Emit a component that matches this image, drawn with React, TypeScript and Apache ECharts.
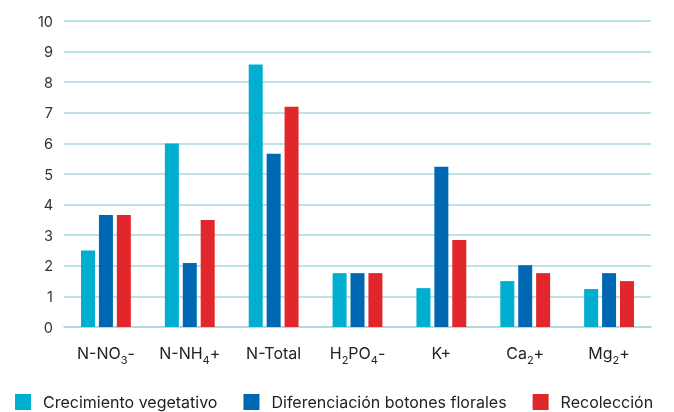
import React, { useEffect, useRef } from "react";
import * as echarts from "echarts";

const categories = ["N-NO{s|3}-", "N-NH{s|4}+", "N-Total", "H{s|2}PO{s|4}-", "K+", "Ca{s|2}+", "Mg{s|2}+"];
const seriesNames = ["Crecimiento vegetativo", "Diferenciación botones florales", "Recolección"];
const crecimiento = [2.5, 6.0, 8.58, 1.76, 1.27, 1.5, 1.24];
const diferenciacion = [3.66, 2.09, 5.66, 1.76, 5.24, 2.02, 1.76];
const recoleccion = [3.66, 3.5, 7.2, 1.76, 2.84, 1.76, 1.5];
const colors = ["#00AFD0", "#0068B3", "#E1262C"];

export default function App() {
  const ref = useRef<HTMLDivElement>(null);
  useEffect(() => {
    if (!ref.current) return;
    const chart = echarts.init(ref.current, null, { renderer: "svg" });
    const font = "Inter, 'Noto Sans', sans-serif";
    const mk = (name: string, data: number[], color: string) => ({
      name,
      type: "bar",
      data,
      barWidth: 14,
      barGap: "28%",
      itemStyle: { color },
    });
    chart.setOption({
      animation: false,
      textStyle: { fontFamily: font },
      grid: { left: 64, right: 23, top: 21, bottom: 85 },
      legend: {
        top: 388,
        left: 10,
        itemWidth: 16,
        itemHeight: 16,
        itemGap: 26,
        icon: "rect",
        textStyle: { fontSize: 16, lineHeight: 18, color: "#222", fontFamily: font, padding: [0, 0, 0, 7] },
        data: seriesNames,
      },
      xAxis: {
        type: "category",
        data: categories,
        axisLine: { lineStyle: { color: "#a8d9e0", width: 1.5 } },
        axisTick: { show: false },
        axisLabel: {
          interval: 0,
          margin: 16,
          fontSize: 16,
          color: "#222",
          fontFamily: font,
          lineHeight: 19,
          rich: {
            s: { fontSize: 11, lineHeight: 11, verticalAlign: "bottom", padding: [0, 0, -3, 0], color: "#222", fontFamily: font },
          },
        },
      },
      yAxis: {
        type: "value",
        min: 0,
        max: 10,
        interval: 1,
        axisLine: { show: false },
        axisTick: { show: false },
        axisLabel: { margin: 11, fontSize: 14.5, color: "#333", fontFamily: font },
        splitLine: { lineStyle: { color: "#a8d9e0", width: 1.5 } },
      },
      series: [
        mk(seriesNames[0], crecimiento, colors[0]),
        mk(seriesNames[1], diferenciacion, colors[1]),
        mk(seriesNames[2], recoleccion, colors[2]),
      ],
    });
    return () => chart.dispose();
  }, []);
  return <div ref={ref} style={{ position: "fixed", left: 0, top: 0, width: 674, height: 412 }} />;
}
